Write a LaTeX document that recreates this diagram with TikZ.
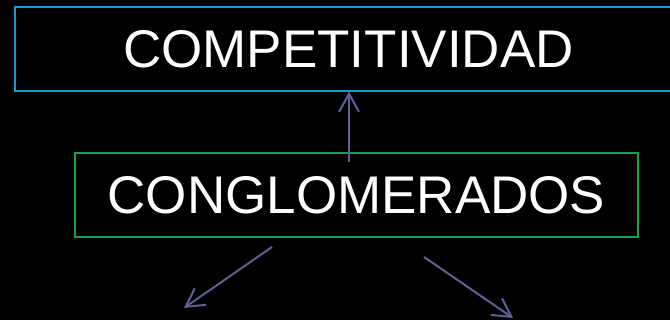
\documentclass[tikz,border=0pt]{standalone}
\usepackage{fontspec}
\setmainfont{Liberation Sans}
\usepackage{tikz}
\usetikzlibrary{arrows.meta, positioning}

\definecolor{boxblue}{RGB}{30,150,210}
\definecolor{boxgreen}{RGB}{25,160,75}
\definecolor{arrowslate}{RGB}{95,95,155}

\begin{document}
\begin{tikzpicture}[x=1pt, y=-1pt,
            title box/.style={draw=boxblue, line width=1.5pt, text=white, inner sep=0pt,
                minimum width=667pt, minimum height=84pt, font=\fontsize{53}{60}\selectfont},
            concept box/.style={draw=boxgreen, line width=1.5pt, text=white, inner sep=0pt,
                minimum width=563pt, minimum height=84pt, font=\fontsize{53}{60}\selectfont},
            link/.style={draw=arrowslate, line width=2pt, -{Straight Barb[length=18pt, width=20pt]}}]

            % Background and page size
            \fill[black] (0,0) rectangle (670,320);
            \useasboundingbox (0,0) rectangle (670,320);

            % Boxes
            \node[title box] (compet) at (348.5,49) {COMPETITIVIDAD};
            \node[concept box] (conglo) at (356.5,195) {CONGLOMERADOS};

            % Arrow ends
            \coordinate (upstart) at (349,162);
            \coordinate (leftstart) at (272,247);
            \coordinate (leftend) at (184,308);
            \coordinate (rightstart) at (424,257);
            \coordinate (rightend) at (513,318);

            % Arrows
            \draw[link] (upstart) -- (upstart |- compet.south);
            \draw[link] (leftstart) -- (leftend);
            \draw[link] (rightstart) -- (rightend);
        \end{tikzpicture}
\end{document}
